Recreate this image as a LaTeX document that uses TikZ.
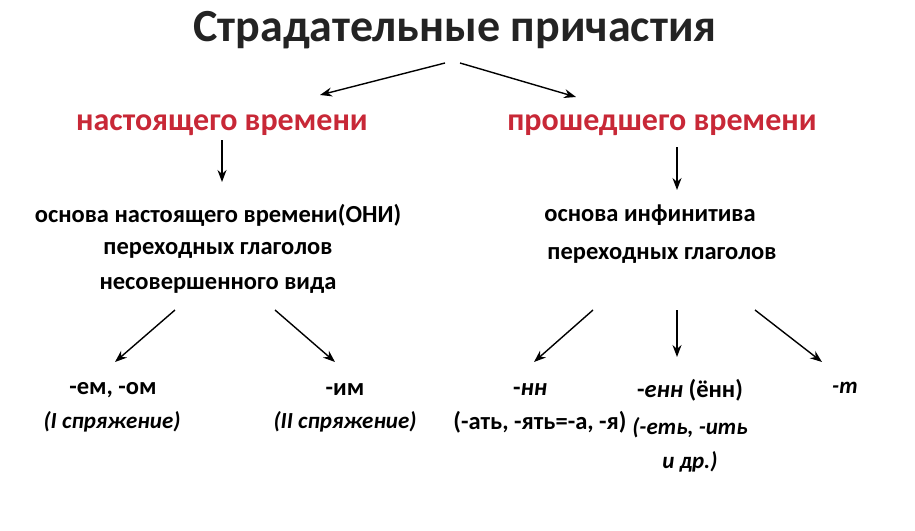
\documentclass[tikz,border=0pt]{standalone}
\usepackage{fontspec}
\setmainfont{Carlito}
\usetikzlibrary{positioning,arrows.meta}
\definecolor{redhead}{RGB}{200,40,55}
\definecolor{titlegray}{RGB}{35,35,35}

\begin{document}
\begin{tikzpicture}[x=1pt,y=-1pt,
    txt/.style={font=\bfseries\fontsize{24.5}{28}\selectfont, inner sep=1pt},
    ital/.style={font=\bfseries\itshape\fontsize{23}{28}\selectfont, inner sep=1pt},
    head/.style={font=\bfseries\fontsize{32}{36}\selectfont, text=redhead, inner sep=1pt},
    arr/.style={-{Stealth[length=12pt,width=9pt]}, line width=1.4pt},
  ]
    \useasboundingbox (0,0) rectangle (915,530);

    \node [font=\bfseries\fontsize{46}{50}\selectfont, text=titlegray, inner sep=1pt] (title) at (455,30) {Страдательные причастия};
    \node [head] (pres) at (222,125) {настоящего времени};
    \node [head] (past) at (662,125) {прошедшего времени};

    \node [txt] (presA) at (218,215) {основа настоящего времени(ОНИ)};
    \node [txt] (presB) at (218,250) {переходных глаголов};
    \node [txt] (presC) at (218,285) {несовершенного вида};
    \node [txt] (pastA) at (650,215) {основа инфинитива};
    \node [txt] (pastB) at (662,255) {переходных глаголов};

    \node [txt] (em) at (113,390) {-ем, -ом};
    \node [ital] (emc) at (112,422) {(I спряжение)};
    \node [txt] (im) at (345,390) {-им};
    \node [ital] (imc) at (345,422) {(II спряжение)};
    \node [txt] (nn) at (530,390) {-\textit{нн}};
    \node [txt] (nnc) at (540,422) {(-ать, -ять=-а, -я)};
    \node [txt] (enn) at (690,390) {-\textit{енн} (ённ)};
    \node [ital] (ennc) at (690,428) {(-еть, -ить};
    \node [ital] (ennd) at (690,462) {и др.)};
    \node [ital] (t) at (845,388) {-т};

    % arrow ends
    \coordinate (t1) at (445,63);  \coordinate (t2) at (460,63);
    \coordinate (p1) at (320,95);  \coordinate (p2) at (576,97);
    \coordinate (q1) at (222,140); \coordinate (q2) at (222,182);
    \coordinate (r1) at (677,147); \coordinate (r2) at (677,190);
    \coordinate (s1) at (175,310); \coordinate (s2) at (115,362);
    \coordinate (s3) at (275,310); \coordinate (s4) at (335,362);
    \coordinate (u1) at (593,310); \coordinate (u2) at (534,362);
    \coordinate (u3) at (677,310); \coordinate (u4) at (677,357);
    \coordinate (u5) at (755,310); \coordinate (u6) at (822,362);

    \draw [arr] (t1) -- (p1);
    \draw [arr] (t2) -- (p2);
    \draw [arr] (q1) -- (q2);
    \draw [arr] (r1) -- (r2);
    \draw [arr] (s1) -- (s2);
    \draw [arr] (s3) -- (s4);
    \draw [arr] (u1) -- (u2);
    \draw [arr] (u3) -- (u4);
    \draw [arr] (u5) -- (u6);
\end{tikzpicture}
\end{document}
